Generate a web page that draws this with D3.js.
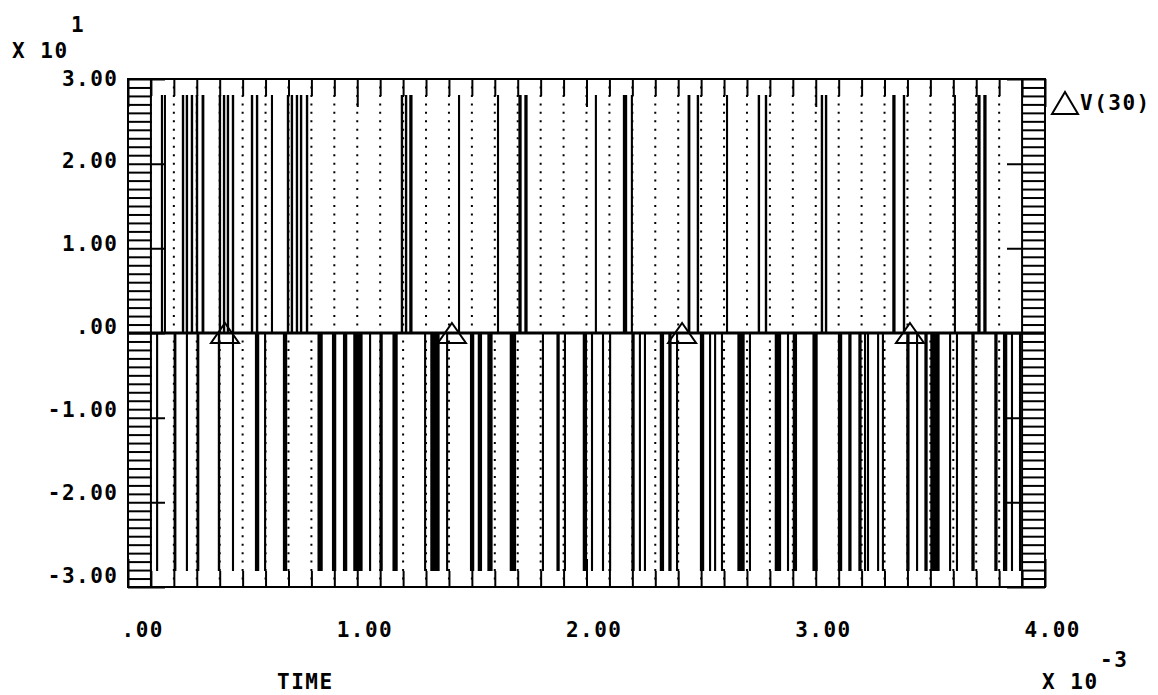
<!DOCTYPE html>
<html>
<head>
<meta charset="utf-8">
<script src="https://cdn.jsdelivr.net/npm/d3@7"></script>
<style>
  body { margin: 0; background: #fff; }
  text {
    font-family: "DejaVu Sans Mono", monospace;
    font-weight: bold;
    font-size: 21px;
    letter-spacing: 1.5px;
    fill: #000;
  }
</style>
</head>
<body>
<script>
/* -----------------------------------------------------
 *  Data (time in ms, voltage in units of 10 V)
 ----------------------------------------------------- */
const xTicks = [0, 1, 2, 3, 4];
const xTickLabels = [".00", "1.00", "2.00", "3.00", "4.00"];
const yTicks = [3, 2, 1, 0, -1, -2, -3];
const yTickLabels = ["3.00", "2.00", "1.00", ".00", "-1.00", "-2.00", "-3.00"];

const seriesName = "V(30)";
const pulseLevel = 2.8;

// positive pulses: centre (ms) and width (us)
const posCenters = [0.148, 0.161, 0.240, 0.257, 0.279, 0.301, 0.327, 0.401, 0.419, 0.436,
  0.458, 0.541, 0.563, 0.628, 0.698, 0.715, 0.737, 0.755, 0.781, 1.195, 1.213, 1.234,
  1.444, 1.614, 1.710, 1.736, 2.041, 2.168, 2.198, 2.447, 2.486, 2.613, 2.752, 2.783,
  3.027, 3.045, 3.341, 3.385, 3.607, 3.712, 3.738];
const posWidths = [1.3, 1.3, 2.6, 2.6, 2.6, 2.6, 4.4, 2.6, 2.6, 2.6,
  2.6, 2.6, 2.6, 1.3, 2.6, 2.6, 2.6, 2.6, 2.6, 2.6, 2.6, 6.5,
  1.3, 1.3, 6.5, 6.5, 1.3, 11, 1.3, 4.4, 2.6, 1.3, 2.6, 2.6,
  2.6, 2.6, 6.5, 2.6, 1.3, 6.5, 6.5];

// negative pulses: centre (ms) and width (us)
const negCenters = [0.127, 0.205, 0.257, 0.305, 0.397, 0.458, 0.563, 0.598, 0.685, 0.838,
  0.899, 0.947, 1.003, 1.056, 1.104, 1.165, 1.296, 1.339, 1.392, 1.501, 1.535, 1.579,
  1.679, 1.810, 1.876, 1.906, 1.993, 2.024, 2.072, 2.103, 2.203, 2.233, 2.255, 2.329,
  2.364, 2.395, 2.504, 2.539, 2.561, 2.591, 2.674, 2.713, 2.835, 2.879, 2.909, 2.997,
  3.106, 3.149, 3.193, 3.215, 3.228, 3.272, 3.293, 3.402, 3.442, 3.481, 3.520, 3.586,
  3.616, 3.686, 3.786, 3.826, 3.856, 3.891];
const negWidths = [1.3, 4.4, 1.3, 4.4, 2.6, 1.3, 11, 1.3, 11, 15,
  11, 11, 33, 1.3, 6.5, 15, 1.3, 33, 1.3, 11, 11, 15,
  20, 1.3, 6.5, 1.3, 11, 1.3, 1.3, 1.3, 6.5, 1.3, 1.3, 11,
  6.5, 1.3, 11, 1.3, 1.3, 1.3, 24, 1.3, 20, 1.3, 11, 15,
  11, 6.5, 6.5, 1.3, 1.3, 1.3, 1.3, 6.5, 1.3, 6.5, 33, 1.3,
  1.3, 6.5, 6.5, 11, 1.3, 1.3];

const markerTimes = [0.423, 1.413, 2.417, 3.411];

/* -----------------------------------------------------
 *  SVG setup and scales
 ----------------------------------------------------- */
const width = 1158;
const height = 695;

const svg = d3
  .select("body")
  .append("svg")
  .attr("width", width)
  .attr("height", height);

const x = d3.scaleLinear().domain([0, 4]).range([128, 1045]);
const y = d3.scaleLinear().domain([-3, 3]).range([587, 79]);
// the plotter put the value labels slightly off the ticks
const yLabel = d3.scaleLinear().domain([-3, 3]).range([575, 78]);

const minorX = d3.range(0, 41).map((i) => i / 10);
const minorY = d3.range(-30, 31).map((i) => i / 10);

/* -----------------------------------------------------
 *  Dotted grid
 ----------------------------------------------------- */
const step = Math.abs(y(0.1) - y(0));
svg
  .selectAll(".grid")
  .data(minorX.filter((d) => d > 0.05 && d < 3.95))
  .enter()
  .append("line")
  .attr("class", "grid")
  .attr("x1", (d) => x(d))
  .attr("x2", (d) => x(d))
  .attr("y1", y(3))
  .attr("y2", y(-3))
  .attr("stroke", "#000")
  .attr("stroke-width", 2)
  .attr("stroke-dasharray", (d) => (d < 0.15 || d > 3.85 ? null : `2 ${step - 2}`))
  .attr("stroke-dashoffset", 1);

/* -----------------------------------------------------
 *  Axes (ticks pointing inward on all four sides)
 ----------------------------------------------------- */
const isMajor = (d) => Math.abs(d - Math.round(d)) < 1e-6;

const axes = [
  [() => d3.axisTop(x), `translate(0,${y(3)})`, minorX, -17, -28],
  [() => d3.axisBottom(x), `translate(0,${y(-3)})`, minorX, -16, -28],
  [() => d3.axisLeft(y), `translate(${x(0)},0)`, minorY, -24, -37],
  [() => d3.axisRight(y), `translate(${x(4)},0)`, minorY, -23, -38],
];
axes.forEach(([makeAxis, tr, values, minor, major]) => {
  [
    [values.filter((d) => !isMajor(d)), minor],
    [values.filter(isMajor), major],
  ].forEach(([vals, size]) => {
    const g = svg
      .append("g")
      .attr("transform", tr)
      .call(makeAxis().tickValues(vals).tickSize(size).tickFormat("").tickSizeOuter(0));
    g.select(".domain").remove();
    g.selectAll("line").attr("stroke", "#000").attr("stroke-width", 2);
  });
});

// frame
svg
  .append("rect")
  .attr("x", x(0))
  .attr("y", y(3))
  .attr("width", x(4) - x(0))
  .attr("height", y(-3) - y(3))
  .attr("fill", "none")
  .attr("stroke", "#000")
  .attr("stroke-width", 2);

/* -----------------------------------------------------
 *  Waveform
 ----------------------------------------------------- */
const line = d3
  .line()
  .x((d) => x(d[0]))
  .y((d) => y(d[1]));

function pulses(centers, widths, level) {
  return centers.map((c, i) => {
    const s = c - widths[i] / 2000;
    const e = c + widths[i] / 2000;
    return [[s, 0], [s, level], [e, level], [e, 0]];
  });
}

svg
  .selectAll(".pulse")
  .data(pulses(posCenters, posWidths, pulseLevel).concat(pulses(negCenters, negWidths, -pulseLevel)))
  .enter()
  .append("path")
  .attr("class", "pulse")
  .attr("d", line)
  .attr("fill", "#000")
  .attr("stroke", "#000")
  .attr("stroke-width", 1.8);

svg
  .append("path")
  .attr("d", line([[0, 0], [4, 0]]))
  .attr("stroke", "#000")
  .attr("stroke-width", 3)
  .attr("fill", "none");

// trace markers
const tri = "M0,-10L14,10L-14,10Z";
svg
  .selectAll(".marker")
  .data(markerTimes)
  .enter()
  .append("path")
  .attr("class", "marker")
  .attr("d", tri)
  .attr("transform", (d) => `translate(${x(d)},${y(0)})`)
  .attr("fill", "none")
  .attr("stroke", "#000")
  .attr("stroke-width", 2);

/* -----------------------------------------------------
 *  Labels
 ----------------------------------------------------- */
svg
  .selectAll(".ylab")
  .data(yTicks)
  .enter()
  .append("text")
  .attr("class", "ylab")
  .attr("x", 118.5)
  .attr("y", (d) => yLabel(d))
  .attr("dy", "0.36em")
  .attr("text-anchor", "end")
  .text((d, i) => yTickLabels[i]);

svg
  .selectAll(".xlab")
  .data(xTicks)
  .enter()
  .append("text")
  .attr("class", "xlab")
  .attr("x", (d) => x(d) + 36)
  .attr("y", 637)
  .attr("text-anchor", "end")
  .text((d, i) => xTickLabels[i]);

svg.append("text").attr("x", 71).attr("y", 32).text("1");
svg.append("text").attr("x", 12).attr("y", 58).text("X 10");
svg.append("text").attr("x", 1100).attr("y", 667).text("-3");
svg.append("text").attr("x", 1042).attr("y", 689).text("X 10");
svg.append("text").attr("x", 277).attr("y", 689).text("TIME");

// legend
svg
  .append("path")
  .attr("d", "M0,-11L13,11L-13,11Z")
  .attr("transform", "translate(1065,103)")
  .attr("fill", "none")
  .attr("stroke", "#000")
  .attr("stroke-width", 2);
svg.append("text").attr("x", 1080).attr("y", 110).text(seriesName);
</script>
</body>
</html>
